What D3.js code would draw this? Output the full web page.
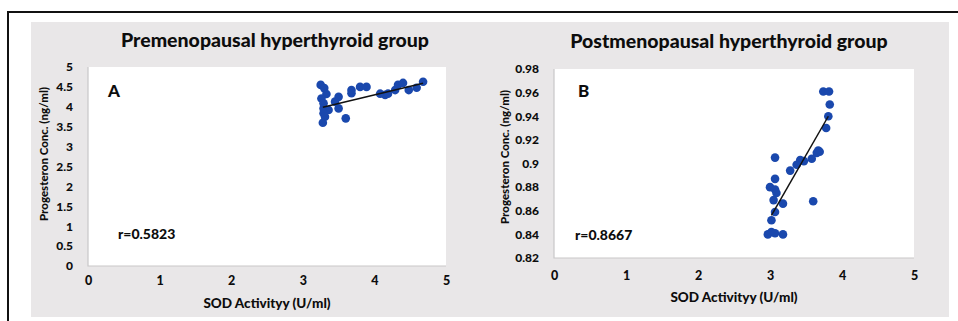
<!DOCTYPE html>
<html>
<head>
<meta charset="utf-8">
<script src="https://cdn.jsdelivr.net/npm/d3@7"></script>
<style>
  html, body { margin: 0; padding: 0; background: #ffffff; }
  svg { display: block; }
  text { font-family: Lato, "Open Sans", sans-serif; font-weight: 900; fill: #0d0d0d; }
</style>
</head>
<body>
<svg id="chart" width="958" height="321"></svg>
<script>
// SOD activity (U/ml) vs progesterone (ng/ml), premenopausal hyperthyroid group
const preSOD  = [3.25, 3.30, 3.33, 3.26, 3.29, 3.50, 3.45, 3.29, 3.36, 3.50, 3.29, 3.31, 3.28, 3.60,
                 3.68, 3.68, 3.80, 3.89, 4.08, 4.15, 4.19, 4.29, 4.33, 4.40, 4.48, 4.59, 4.68];
const preProg = [4.55, 4.47, 4.32, 4.21, 4.09, 4.25, 4.13, 3.96, 3.92, 3.96, 3.84, 3.75, 3.60, 3.71,
                 4.34, 4.42, 4.50, 4.50, 4.33, 4.30, 4.33, 4.42, 4.55, 4.60, 4.42, 4.48, 4.63];
// linear trend line end points
const preTrendSOD  = [3.28, 4.68];
const preTrendProg = [3.99, 4.59];

// Postmenopausal hyperthyroid group
const postSOD  = [3.74, 3.82, 3.83, 3.81, 3.78, 3.67, 3.69, 3.65, 3.58, 3.47, 3.42, 3.37, 3.28, 3.07,
                  3.07, 3.00, 3.07, 3.09, 3.05, 3.18, 3.07, 3.02, 3.02, 2.97, 3.07, 3.18, 3.60];
const postProg = [0.961, 0.961, 0.950, 0.940, 0.930, 0.911, 0.910, 0.909, 0.904, 0.902, 0.903, 0.899,
                  0.894, 0.905, 0.887, 0.880, 0.878, 0.875, 0.869, 0.866, 0.859, 0.852, 0.842, 0.840,
                  0.841, 0.840, 0.868];
const postTrendSOD  = [3.02, 3.81];
const postTrendProg = [0.856, 0.940];

const xTicks = [0, 1, 2, 3, 4, 5];
const preYTicks = [0, 0.5, 1, 1.5, 2, 2.5, 3, 3.5, 4, 4.5, 5];
const postYTicks = [0.82, 0.84, 0.86, 0.88, 0.9, 0.92, 0.94, 0.96, 0.98];

const titles = ["Premenopausal hyperthyroid group", "Postmenopausal hyperthyroid group"];
const letters = ["A", "B"];
const rLabels = ["r=0.5823", "r=0.8667"];
const xTitle = "SOD Activityy (U/ml)";
const yTitle = "Progesteron Conc. (ng/ml)";

const svg = d3.select("#chart");

// outer frame
svg.append("rect")
  .attr("x", 8).attr("y", 12).attr("width", 960).attr("height", 330)
  .attr("fill", "#fff").attr("stroke", "#111").attr("stroke-width", 2);

const panels = [
  { bg: [31, 22, 452, 295], plot: [88, 67, 446, 266], xs: preSOD, ys: preProg,
    tx: preTrendSOD, ty: preTrendProg,
    yDomain: [0, 5], yTicks: preYTicks,
    titleX: 275, titleY: 47, yTitleX: 48, yTitleY: 154, xTitleY: 308, xTickY: 280,
    letterX: 108, letterY: 97, rX: 118, rY: 239 },
  { bg: [483, 22, 466, 295], plot: [554, 69, 914, 258], xs: postSOD, ys: postProg,
    tx: postTrendSOD, ty: postTrendProg,
    yDomain: [0.82, 0.98], yTicks: postYTicks,
    titleX: 729, titleY: 48, yTitleX: 509, yTitleY: 157, xTitleY: 302, xTickY: 275,
    letterX: 578, letterY: 97, rX: 575, rY: 240 }
];

panels.forEach((p, k) => {
  const g = svg.append("g");
  g.append("rect")
    .attr("x", p.bg[0]).attr("y", p.bg[1]).attr("width", p.bg[2]).attr("height", p.bg[3])
    .attr("fill", "#e9e7e8");

  const [x0, y0, x1, y1] = p.plot;
  const x = d3.scaleLinear().domain([0, 5]).range([x0, x1]);
  const y = d3.scaleLinear().domain(p.yDomain).range([y1, y0]);

  // plot area
  g.append("rect")
    .attr("x", x0).attr("y", y0).attr("width", x1 - x0).attr("height", y1 - y0)
    .attr("fill", "#ffffff");
  g.append("path")
    .attr("d", `M${x0},${y0}V${y1}H${x1}`)
    .attr("fill", "none").attr("stroke", "#c9c7c8").attr("stroke-width", 1.2);

  // axes (labels only)
  const xAxis = d3.axisBottom(x).tickValues(xTicks).tickSize(0).tickFormat(d3.format("d"));
  const xg = g.append("g").attr("transform", `translate(0,${p.xTickY - 7})`).call(xAxis);
  xg.select(".domain").remove();
  xg.selectAll("text").attr("font-size", 12.5).attr("font-family", "Lato, sans-serif")
    .attr("font-weight", 900).attr("fill", "#0d0d0d").attr("dy", "0.71em");

  const yAxis = d3.axisLeft(y).tickValues(p.yTicks).tickSize(0).tickFormat(d => String(d));
  const yg = g.append("g").attr("transform", `translate(${x0 - 12},0)`).call(yAxis);
  yg.select(".domain").remove();
  yg.selectAll("text").attr("font-size", 12).attr("font-family", "Lato, sans-serif")
    .attr("font-weight", 900).attr("fill", "#0d0d0d");

  // titles
  g.append("text").attr("x", p.titleX).attr("y", p.titleY)
    .attr("text-anchor", "middle").attr("font-size", 19.5).text(titles[k]);
  g.append("text").attr("x", (x0 + x1) / 2).attr("y", p.xTitleY)
    .attr("text-anchor", "middle").attr("font-size", 13.5).text(xTitle);
  g.append("text")
    .attr("transform", `translate(${p.yTitleX},${p.yTitleY}) rotate(-90)`)
    .attr("text-anchor", "middle").attr("font-size", 11.5).text(yTitle);
  g.append("text").attr("x", p.letterX).attr("y", p.letterY)
    .attr("font-size", 17).text(letters[k]);
  g.append("text").attr("x", p.rX).attr("y", p.rY)
    .attr("font-size", 14).text(rLabels[k]);

  // points
  g.append("g").selectAll("circle")
    .data(p.xs.map((v, i) => [v, p.ys[i]]))
    .join("circle")
    .attr("cx", d => x(d[0])).attr("cy", d => y(d[1])).attr("r", 4.3)
    .attr("fill", "#1a48ad");

  // linear trend line
  g.append("line")
    .attr("x1", x(p.tx[0])).attr("y1", y(p.ty[0]))
    .attr("x2", x(p.tx[1])).attr("y2", y(p.ty[1]))
    .attr("stroke", "#111").attr("stroke-width", 1.5);
});
</script>
</body>
</html>
